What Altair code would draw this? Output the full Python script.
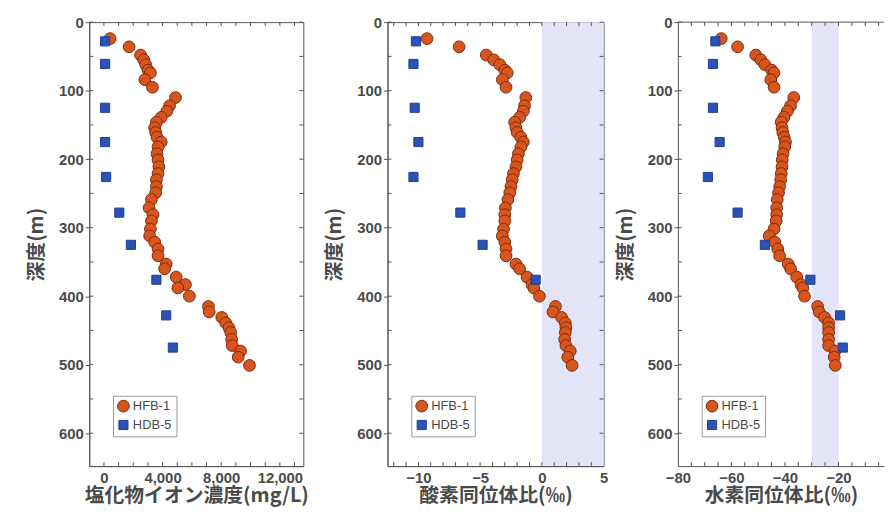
import altair as alt
import pandas as pd

SERIES = ["HFB-1", "HDB-5"]
FILLS = ["#d8561d", "#2b52b4"]
EDGES = ["#7a2c0a", "#1f3f96"]
SHAPES = ["circle", "square"]
SIZES = [140, 85]

# HFB-1 borehole samples (depth m)
hfb_depth = [24, 36, 48, 55, 62, 70, 74, 84, 95, 110, 122, 130, 139, 146, 154, 161, 168, 175,
             182, 192, 201, 211, 221, 230, 240, 249, 259, 271, 281, 290, 302, 312, 321, 331,
             341, 353, 360, 372, 383, 388, 400, 415, 423, 431, 439, 446, 453, 463, 472, 480,
             489, 501]
hfb_cl = [420, 1720, 2500, 2720, 2850, 3010, 3170, 2790, 3310, 4880, 4480, 4290, 3910, 3580,
          3460, 3530, 3620, 3910, 3690, 3620, 3690, 3750, 3690, 3580, 3580, 3530, 3240, 3080,
          3350, 3240, 3170, 3120, 3460, 3690, 3690, 4250, 4140, 4930, 5560, 5040, 5830, 7130,
          7180, 8040, 8310, 8530, 8650, 8710, 8750, 9320, 9160, 9930]
hfb_o = [-9.3, -6.7, -4.5, -3.9, -3.4, -3.0, -2.8, -3.2, -2.9, -1.3, -1.4, -1.5, -1.8, -2.2,
         -2.1, -2.0, -1.7, -1.5, -1.7, -1.9, -2.0, -2.1, -2.3, -2.4, -2.5, -2.6, -2.75, -2.95,
         -3.0, -3.0, -3.1, -3.2, -3.0, -2.9, -2.9, -2.1, -1.8, -1.2, -0.8, -0.65, -0.2, 1.1,
         0.9, 1.6, 1.9, 1.95, 1.9, 1.85, 1.95, 2.3, 2.1, 2.45]
hfb_h = [-63.8, -57.7, -50.9, -49.0, -47.5, -45.0, -44.1, -45.3, -44.1, -36.7, -37.9, -39.1,
         -40.4, -41.4, -41.1, -40.8, -40.3, -39.8, -40.1, -40.7, -41.0, -41.1, -41.4, -41.6,
         -42.0, -42.4, -42.9, -43.1, -43.1, -43.3, -44.1, -45.9, -43.8, -42.7, -42.0, -38.8,
         -37.9, -35.6, -34.0, -33.3, -32.7, -27.8, -27.2, -25.2, -23.7, -23.7, -23.7, -23.7,
         -23.7, -21.3, -21.6, -21.2]

# HDB-5 borehole samples
hdb_depth = [28, 61, 125, 175, 226, 278, 325, 376, 428, 475]
hdb_cl = [80, 80, 80, 80, 150, 1050, 1840, 3580, 4250, 4700]
hdb_depth_o = [28, 61, 125, 175, 226, 278, 325, 376]
hdb_o = [-10.2, -10.4, -10.3, -10.0, -10.4, -6.6, -4.8, -0.5]
hdb_h = [-66.0, -66.9, -66.9, -64.4, -68.8, -57.7, -47.5, -30.5, -19.4, -18.4]

depth_ticks = [0, 100, 200, 300, 400, 500, 600]
depth_minor = [50, 150, 250, 350, 450, 550]
cl_ticks = [0, 4000, 8000, 12000]
cl_minor = [0, 1000, 2000, 3000, 4000, 5000, 6000, 7000, 8000, 9000, 10000, 11000, 12000, 13000]
o_ticks = [-10, -5, 0, 5]
o_minor = [-12, -11, -10, -9, -8, -7, -6, -5, -4, -3, -2, -1, 0, 1, 2, 3, 4]
h_ticks = [-80, -60, -40, -20]
h_minor = [-75, -70, -65, -60, -55, -50, -45, -40, -35, -30, -25, -20, -15, -10, -5]

x_titles = ["塩化物イオン濃度(mg/L)", "酸素同位体比(‰)", "水素同位体比(‰)"]
y_title = "深度(m)"

H = 448
DMAX = 648
AX = "#555555"
TXT = "#4a4a4a"
JP = "Noto Sans CJK JP"
LAT = "Liberation Sans"
TL = 4  # inner tick length (px)


def panel(x_title, hfb_vals, d_hdb, hdb_vals, domain, ticks, minor, fmt, width, band=None,
          open_right=False):
    df = pd.DataFrame({
        "depth": hfb_depth + d_hdb,
        "value": hfb_vals + hdb_vals,
        "series": ["HFB-1"] * len(hfb_vals) + ["HDB-5"] * len(hdb_vals),
    })
    legend = alt.Legend(title=None, orient="none", legendX=24, legendY=377,
                        strokeColor="#9a9a9a", fillColor="white", padding=4,
                        labelFontSize=13, labelFont=LAT, labelColor=TXT,
                        rowPadding=3, symbolStrokeWidth=1, labelOffset=3)
    xscale = alt.Scale(domain=domain, nice=False, zero=False)
    yscale = alt.Scale(domain=[0, DMAX], reverse=True, nice=False, zero=False)
    xaxis = alt.Axis(values=ticks, format=fmt, title=x_title, labelFlush=False,
                     labelOverlap=False)
    yaxis = alt.Axis(values=depth_ticks, title=y_title, labelFlush=False)
    X = lambda f: alt.X(f, scale=xscale, axis=xaxis)
    Y = lambda f: alt.Y(f, scale=yscale, axis=yaxis)
    layers = []
    if band is not None:
        bdf = pd.DataFrame({"x0": [band[0]], "x1": [band[1]], "d0": [0], "d1": [DMAX]})
        layers.append(alt.Chart(bdf).mark_rect(color="#e4e4f8").encode(
            x=X("x0:Q"), x2="x1:Q", y=Y("d0:Q"), y2="d1:Q"))
    if open_right:
        tdf = pd.DataFrame({"x0": [domain[0]], "x1": [domain[1]], "d0": [0]})
        layers.append(alt.Chart(tdf).mark_rule(color=AX, strokeWidth=1).encode(
            x=X("x0:Q"), x2="x1:Q", y=Y("d0:Q")))
    # inner ticks along top and bottom frame
    mdf = pd.DataFrame({"t": minor})
    layers.append(alt.Chart(mdf).mark_rule(color=AX, strokeWidth=1).encode(
        x=X("t:Q"), y=alt.value(0), y2=alt.value(TL)))
    layers.append(alt.Chart(mdf).mark_rule(color=AX, strokeWidth=1).encode(
        x=X("t:Q"), y=alt.value(H - TL), y2=alt.value(H)))
    # inner ticks along left (and right) frame
    ddf = pd.DataFrame({"d": depth_ticks + depth_minor})
    layers.append(alt.Chart(ddf).mark_rule(color=AX, strokeWidth=1).encode(
        y=Y("d:Q"), x=alt.value(0), x2=alt.value(TL)))
    if not open_right:
        layers.append(alt.Chart(ddf).mark_rule(color=AX, strokeWidth=1).encode(
            y=Y("d:Q"), x=alt.value(width - TL), x2=alt.value(width)))
    layers.append(alt.Chart(df).mark_point(filled=True, opacity=1, strokeWidth=1).encode(
        x=X("value:Q"),
        y=Y("depth:Q"),
        color=alt.Color("series:N", scale=alt.Scale(domain=SERIES, range=FILLS), legend=legend),
        shape=alt.Shape("series:N", scale=alt.Scale(domain=SERIES, range=SHAPES), legend=legend),
        size=alt.Size("series:N", scale=alt.Scale(domain=SERIES, range=SIZES), legend=legend),
        stroke=alt.Stroke("series:N", scale=alt.Scale(domain=SERIES, range=EDGES), legend=legend),
    ))
    ch = alt.layer(*layers).properties(width=width, height=H)
    if open_right:
        ch = ch.properties(view=alt.ViewBackground(stroke=None))
    return ch


p1 = panel(x_titles[0], hfb_cl, hdb_depth, hdb_cl, [-1000, 13600], cl_ticks, cl_minor, ",d", 216)
p2 = panel(x_titles[1], hfb_o, hdb_depth_o, hdb_o, [-12.5, 5], o_ticks, o_minor, "d", 218,
           band=(0, 5))
p3 = panel(x_titles[2], hfb_h, hdb_depth, hdb_h, [-80, -3], h_ticks, h_minor, "d", 208,
           band=(-30, -20), open_right=True)

ind = dict(color="independent", shape="independent", size="independent", stroke="independent")

inner = (alt.hconcat(p2, p3, spacing=75, bounds="flush")
         .resolve_scale(**ind).resolve_legend(**ind))
chart = (
    alt.hconcat(p1, inner, spacing=85, bounds="flush")
    .resolve_scale(**ind)
    .resolve_legend(**ind)
    .properties(padding={"left": 18, "top": 4, "right": 0, "bottom": 0}, background="white")
    .configure_view(stroke=AX, strokeWidth=1)
    .configure_axis(
        grid=False, domainColor=AX, tickColor=AX, tickSize=4, labelPadding=2,
        labelFont=LAT, labelFontSize=15, labelFontWeight="bold", labelColor=TXT,
        titleFont=JP, titleFontSize=20, titleFontWeight="bold", titleColor=TXT,
    )
    .configure_axisY(titlePadding=12)
    .configure_axisX(titlePadding=0, tickSize=0, labelPadding=5)
)

chart.save("out.html", embed_options={"renderer": "svg", "actions": False})
